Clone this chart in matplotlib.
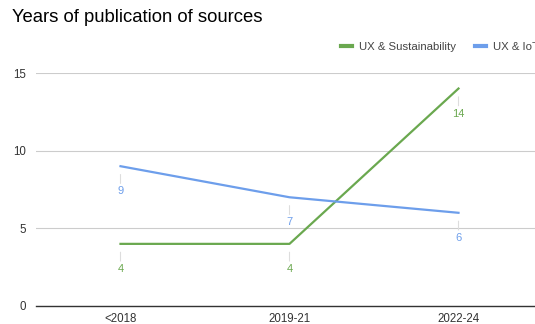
import matplotlib.pyplot as plt
from matplotlib.lines import Line2D

plt.rcParams['font.family'] = ['Liberation Sans', 'DejaVu Sans']

periods = ['<2018', '2019-21', '2022-24']
sustainability = [4, 4, 14]
iot = [9, 7, 6]
yticks = [0, 5, 10, 15]

green = '#6aa84f'
blue = '#6d9eeb'

fig = plt.figure(figsize=(5.35, 3.24), dpi=100)
ax = fig.add_axes([36 / 535, 18 / 324, 507 / 535, 233 / 324])

x = list(range(len(periods)))
ax.plot(x, sustainability, color=green, lw=1.6, label='UX & Sustainability', zorder=3)
ax.plot(x, iot, color=blue, lw=1.6, label='UX & IoT', zorder=3)

# data labels under each point with a little grey leader line
for vals, col in [(sustainability, green), (iot, blue)]:
    for xi, v in zip(x, vals):
        ax.annotate(str(v), (xi, v), xytext=(0, -25), textcoords='offset pixels',
                    ha='center', va='center', fontsize=8, color=col,
                    arrowprops=dict(arrowstyle='-', color='#dddddd', lw=0.8,
                                    shrinkA=0, shrinkB=6))

ax.set_xlim(-0.5, 2.5)
ax.set_ylim(0, 15)
ax.set_xticks(x)
ax.set_xticklabels(periods)
ax.set_yticks(yticks)
ax.tick_params(length=0, labelsize=8.3, colors='#333333')
ax.tick_params(axis='y', pad=7)
ax.tick_params(axis='x', pad=5)
ax.grid(axis='y', color='#cccccc', lw=0.8)
ax.set_axisbelow(True)
for s in ['top', 'right', 'left']:
    ax.spines[s].set_visible(False)
ax.spines['bottom'].set_color('#333333')
ax.spines['bottom'].set_linewidth(1.0)

fig.text(12 / 535, 1 - 18 / 324, 'Years of publication of sources', fontsize=13.3,
         color='#000000', va='center', ha='left')

handles = [Line2D([], [], color=green, lw=3), Line2D([], [], color=blue, lw=3)]
fig.legend(handles, ['UX & Sustainability', 'UX & IoT'],
           loc='center left', bbox_to_anchor=(341 / 535, 1 - 47 / 324), ncol=2,
           frameon=False, fontsize=8.2, handlelength=0.97, handletextpad=0.61,
           columnspacing=1.67, borderpad=0, borderaxespad=0, labelcolor='#444444')

fig.savefig('out.png', dpi=100)
